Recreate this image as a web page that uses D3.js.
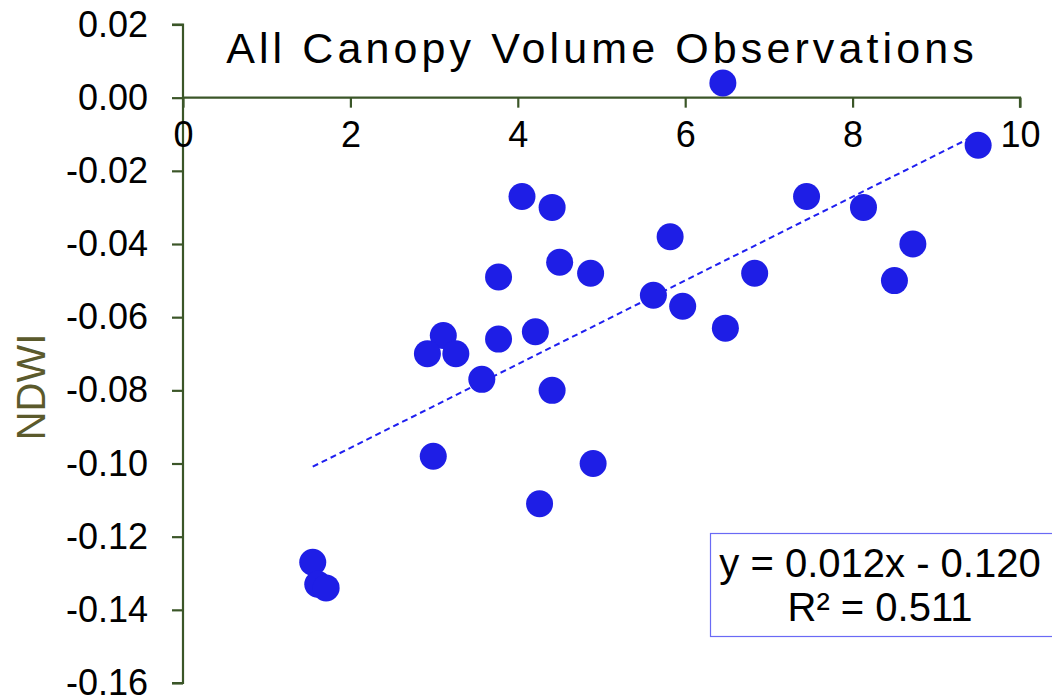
<!DOCTYPE html>
<html>
<head>
<meta charset="utf-8">
<script src="https://cdn.jsdelivr.net/npm/d3@7"></script>
<style>
  html, body { margin: 0; padding: 0; background: #fff; }
  svg { display: block; font-family: "Liberation Sans", Arial, sans-serif; }
</style>
</head>
<body>
<svg id="chart" width="1052" height="699"></svg>
<script>
// ---- data ----
const canopyVolume = [6.45, 9.50, 4.05, 4.41, 7.45, 8.13, 5.82, 8.72, 4.50, 3.77, 4.87, 6.83, 8.50, 5.62, 5.97, 6.48,
                      3.11, 4.21, 3.77, 2.92, 3.26, 3.57, 4.41, 2.99, 4.90, 4.26, 1.55, 1.61, 1.71];
const ndwi = [0.004, -0.013, -0.027, -0.030, -0.027, -0.030, -0.038, -0.040, -0.045, -0.049, -0.048, -0.048, -0.050, -0.054, -0.057, -0.063,
              -0.065, -0.064, -0.066, -0.070, -0.070, -0.077, -0.080, -0.098, -0.100, -0.111, -0.127, -0.133, -0.134];
const xTicks = [0, 2, 4, 6, 8, 10];
const yTicks = [0.02, 0.00, -0.02, -0.04, -0.06, -0.08, -0.10, -0.12, -0.14, -0.16];
const trendCoef = [0.01144, -0.1186];      // slope, intercept of drawn trend line
const trendRange = [1.55, 9.5];
const titleText = "All Canopy Volume Observations";
const yLabel = "NDWI";
const eqLines = ["y = 0.012x - 0.120", "R\u00B2 = 0.511"];

// ---- layout ----
const svg = d3.select("#chart");
const axisColor = "#3b5628";
const ptColor = "#1e1ee6";

const x = d3.scaleLinear().domain([0, 10]).range([183, 1020]);
const y = d3.scaleLinear().domain([-0.16, 0.02]).range([683, 24.5]);

// title
svg.append("text")
  .attr("x", 602).attr("y", 63)
  .attr("text-anchor", "middle")
  .attr("font-size", 43)
  .attr("letter-spacing", 4.1)
  .attr("fill", "#000")
  .text(titleText);

// y axis
const yAxis = d3.axisLeft(y).tickValues(yTicks).tickSize(11).tickPadding(24)
  .tickFormat(d => d3.format(".2f")(d).replace("−", "-"));
const gy = svg.append("g").attr("transform", `translate(${x(0)},0)`).call(yAxis);
gy.select(".domain").attr("stroke", axisColor).attr("stroke-width", 2.2)
  .attr("d", `M-11,${y(0.02)}H0V${y(-0.16)}H-11`);
gy.selectAll(".tick line").attr("stroke", axisColor).attr("stroke-width", 2.2);
gy.selectAll(".tick text").attr("font-size", 36).attr("fill", "#000")
  .attr("font-family", "'Liberation Sans', Arial, sans-serif");

// x axis (crossing at y = 0)
const xAxis = d3.axisBottom(x).tickValues(xTicks).tickSize(10).tickPadding(14)
  .tickFormat(d3.format("d"));
const gx = svg.append("g").attr("transform", `translate(0,${y(0)})`).call(xAxis);
gx.select(".domain").attr("stroke", axisColor).attr("stroke-width", 2.2)
  .attr("d", `M${x(0)},0H${x(10)}V10`);
gx.selectAll(".tick line").attr("stroke", axisColor).attr("stroke-width", 2.2);
gx.selectAll(".tick text").attr("font-size", 36).attr("fill", "#000")
  .attr("font-family", "'Liberation Sans', Arial, sans-serif");

// y label
svg.append("text")
  .attr("transform", "translate(45,387) rotate(-90)")
  .attr("text-anchor", "middle")
  .attr("font-size", 40)
  .attr("fill", "#5b5a2c")
  .text(yLabel);

// trend line
svg.append("line")
  .attr("x1", x(trendRange[0])).attr("y1", y(trendCoef[0] * trendRange[0] + trendCoef[1]))
  .attr("x2", x(trendRange[1])).attr("y2", y(trendCoef[0] * trendRange[1] + trendCoef[1]))
  .attr("stroke", "#1f1ff0").attr("stroke-width", 2)
  .attr("stroke-dasharray", "6,4");

// points
const pts = canopyVolume.map((v, i) => ({ x: v, y: ndwi[i] }));
svg.append("g").selectAll("circle").data(pts).join("circle")
  .attr("cx", d => x(d.x)).attr("cy", d => y(d.y))
  .attr("r", 13.5)
  .attr("fill", ptColor);

// equation box
svg.append("rect")
  .attr("x", 710.5).attr("y", 533.5).attr("width", 360).attr("height", 103)
  .attr("fill", "#fff").attr("stroke", "#6a6af5").attr("stroke-width", 1.2);
svg.append("g").selectAll("text").data(eqLines).join("text")
  .attr("x", 880).attr("y", (d, i) => 577 + i * 44)
  .attr("text-anchor", "middle")
  .attr("font-size", 40)
  .attr("fill", "#000")
  .text(d => d);
</script>
</body>
</html>
